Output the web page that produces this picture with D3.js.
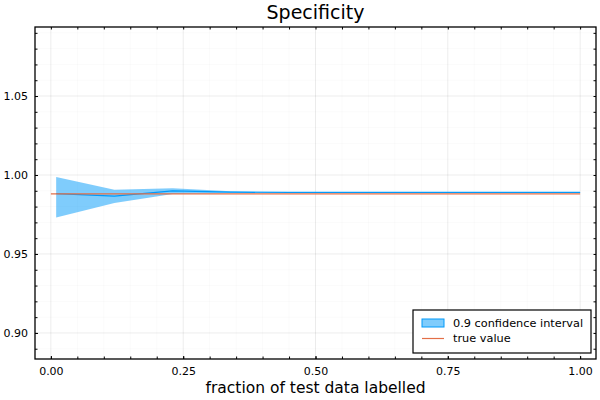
<!DOCTYPE html>
<html lang="en">
<head>
<meta charset="utf-8">
<title>Specificity</title>
<script src="https://d3js.org/d3.v7.min.js"></script>
<style>
body { margin: 0; background: #fff; }
text { font-family: "DejaVu Sans", sans-serif; fill: #000; }
</style>
</head>
<body>
<script>
// data
const fractions = [0.01, 0.12, 0.23, 0.34, 0.45, 0.56, 0.67, 0.78, 0.89, 1.00];
const meanVals  = [0.9882, 0.9866, 0.9899, 0.9891, 0.9890, 0.9890, 0.9890, 0.9890, 0.9890, 0.9890];
const lowerVals = [0.9731, 0.9822, 0.9880, 0.9886, 0.9888, 0.9888, 0.9888, 0.9888, 0.9888, 0.9888];
const upperVals = [0.9987, 0.9906, 0.9916, 0.9897, 0.9893, 0.9892, 0.9892, 0.9892, 0.9892, 0.9892];
const trueX = [0, 1];
const trueY = [0.98805, 0.98805];
const xTicks = [0, 0.25, 0.5, 0.75, 1];
const yTicks = [0.90, 0.95, 1.00, 1.05];
const xMinor = d3.range(0, 1.0001, 0.05);
const yMinor = d3.range(0.89, 1.0901, 0.01);

const svgWidth = 600, svgHeight = 400;
const plotLeft = 35, plotRight = 596, plotTop = 27, plotBottom = 359;

const svg = d3.select("body").append("svg")
    .attr("width", svgWidth)
    .attr("height", svgHeight);

const x = d3.scaleLinear().domain([-0.03, 1.03]).range([plotLeft, plotRight]);
const y = d3.scaleLinear().domain([0.8835, 1.0937]).range([plotBottom, plotTop]);

// minor grid
svg.append("g").selectAll("line").data(xMinor).join("line")
    .attr("x1", d => x(d)).attr("x2", d => x(d))
    .attr("y1", plotTop).attr("y2", plotBottom)
    .attr("stroke", "#000").attr("stroke-opacity", 0.04).attr("stroke-width", 0.6);
svg.append("g").selectAll("line").data(yMinor).join("line")
    .attr("y1", d => y(d)).attr("y2", d => y(d))
    .attr("x1", plotLeft).attr("x2", plotRight)
    .attr("stroke", "#000").attr("stroke-opacity", 0.04).attr("stroke-width", 0.6);

// major grid
svg.append("g").selectAll("line").data(xTicks).join("line")
    .attr("x1", d => x(d)).attr("x2", d => x(d))
    .attr("y1", plotTop).attr("y2", plotBottom)
    .attr("stroke", "#000").attr("stroke-opacity", 0.1).attr("stroke-width", 0.6);
svg.append("g").selectAll("line").data(yTicks).join("line")
    .attr("y1", d => y(d)).attr("y2", d => y(d))
    .attr("x1", plotLeft).attr("x2", plotRight)
    .attr("stroke", "#000").attr("stroke-opacity", 0.1).attr("stroke-width", 0.6);

// ribbon and its centre line
const rows = fractions.map((f, i) => ({f: f, m: meanVals[i], lo: lowerVals[i], hi: upperVals[i]}));
svg.append("path")
    .datum(rows)
    .attr("fill", "#009AFA").attr("fill-opacity", 0.5)
    .attr("d", d3.area().x(d => x(d.f)).y0(d => y(d.lo)).y1(d => y(d.hi)));
svg.append("path")
    .datum(rows)
    .attr("fill", "none").attr("stroke", "#009AFA").attr("stroke-width", 1.2)
    .attr("d", d3.line().x(d => x(d.f)).y(d => y(d.m)));

// true value
svg.append("path")
    .datum(trueX.map((v, i) => [v, trueY[i]]))
    .attr("fill", "none").attr("stroke", "#E36F47").attr("stroke-width", 1.1)
    .attr("d", d3.line().x(d => x(d[0])).y(d => y(d[1])));

// axes with inward ticks, mirrored on top/right
const xAxis = d3.axisBottom(x).tickValues(xTicks).tickFormat(d3.format(".2f")).tickSize(-3).tickPadding(8);
const yAxis = d3.axisLeft(y).tickValues(yTicks).tickFormat(d3.format(".2f")).tickSize(-3).tickPadding(7);
const gx = svg.append("g").attr("transform", "translate(0," + plotBottom + ")").call(xAxis);
const gy = svg.append("g").attr("transform", "translate(" + plotLeft + ",0)").call(yAxis);
[gx, gy].forEach(g => {
    g.select(".domain").remove();
    g.selectAll("text").attr("font-size", 11).attr("font-family", "DejaVu Sans, sans-serif").attr("fill", "#000");
    g.selectAll("line").attr("stroke", "#000");
});
svg.append("g").attr("transform", "translate(0," + plotBottom + ")")
    .call(d3.axisBottom(x).tickValues(xMinor).tickFormat("").tickSize(-2.5))
    .call(g => g.select(".domain").remove());
svg.append("g").attr("transform", "translate(0," + plotTop + ")")
    .call(d3.axisTop(x).tickValues(xMinor).tickFormat("").tickSize(-2.5))
    .call(g => g.select(".domain").remove());
svg.append("g").attr("transform", "translate(" + plotLeft + ",0)")
    .call(d3.axisLeft(y).tickValues(yMinor).tickFormat("").tickSize(-2.5))
    .call(g => g.select(".domain").remove());
svg.append("g").attr("transform", "translate(" + plotRight + ",0)")
    .call(d3.axisRight(y).tickValues(yMinor).tickFormat("").tickSize(-2.5))
    .call(g => g.select(".domain").remove());

// frame
svg.append("rect")
    .attr("x", plotLeft).attr("y", plotTop)
    .attr("width", plotRight - plotLeft).attr("height", plotBottom - plotTop)
    .attr("fill", "none").attr("stroke", "#000").attr("stroke-width", 1.3);

// title and label
svg.append("text")
    .attr("x", (plotLeft + plotRight) / 2).attr("y", 19)
    .attr("text-anchor", "middle").attr("font-size", 19)
    .text("Specificity");
svg.append("text")
    .attr("x", (plotLeft + plotRight) / 2).attr("y", 393)
    .attr("text-anchor", "middle").attr("font-size", 15.5)
    .text("fraction of test data labelled");

// legend
const lg = svg.append("g").attr("transform", "translate(413,310)");
lg.append("rect").attr("width", 178).attr("height", 43)
    .attr("fill", "#fff").attr("stroke", "#000").attr("stroke-width", 1.2);
lg.append("rect").attr("x", 9).attr("y", 9).attr("width", 22).attr("height", 8)
    .attr("fill", "#009AFA").attr("fill-opacity", 0.5)
    .attr("stroke", "#009AFA").attr("stroke-width", 1);
lg.append("text").attr("x", 40).attr("y", 17).attr("font-size", 11.3).text("0.9 confidence interval");
lg.append("line").attr("x1", 9).attr("x2", 31).attr("y1", 28.5).attr("y2", 28.5)
    .attr("stroke", "#E36F47").attr("stroke-width", 1.2);
lg.append("text").attr("x", 40).attr("y", 32).attr("font-size", 11.3).text("true value");
</script>
</body>
</html>
